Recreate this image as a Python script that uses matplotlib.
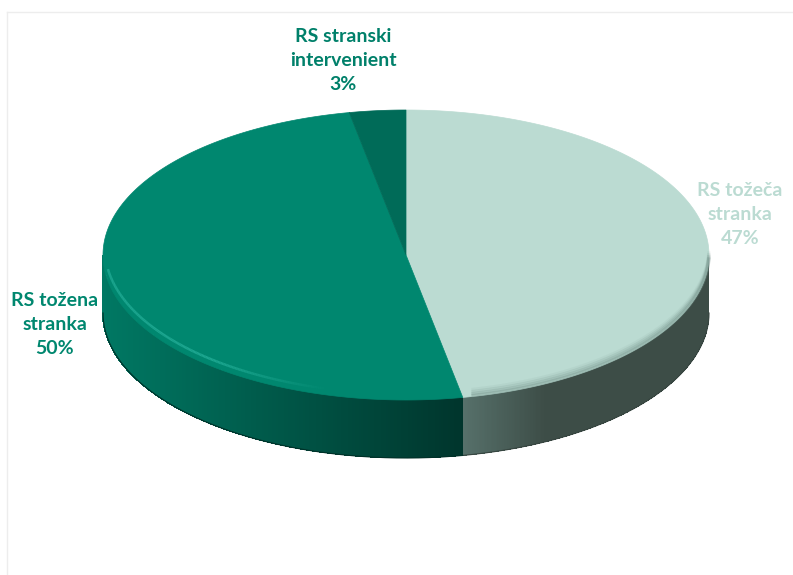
import numpy as np
import matplotlib.pyplot as plt
from matplotlib.patches import Polygon
from matplotlib.colors import to_rgb

labels = ['RS tožeča\nstranka', 'RS tožena\nstranka', 'RS stranski\nintervenient']
values = [47, 50, 3]
top_colors = ['#BBDBD2', '#00876F', '#006B58']
label_colors = ['#BBDBD2', '#00876F', '#00806A']
# side shading: (color at left end, color at right end)
side_colors = [('#56706A', '#3D4D47'), ('#007863', '#00352C'), ('#005546', '#004438')]

plt.rcParams['font.family'] = ['Lato', 'DejaVu Sans']

fig = plt.figure(figsize=(7.93, 5.75), dpi=100)
ax = fig.add_axes([0, 0, 1, 1])
ax.set_xlim(0, 793)
ax.set_ylim(575, 0)
ax.axis('off')

# faint chart border
ax.plot([7, 793], [12, 12], color='#EDEDED', lw=1)
ax.plot([7, 7], [12, 575], color='#EDEDED', lw=1)

cx, cy, a, b, depth = 406, 255, 303, 145, 58


def pt(phi):
    r = np.radians(phi)
    return cx + a * np.sin(r), cy - b * np.cos(r)


total = sum(values)
bounds = np.concatenate([[0], np.cumsum(values) / total * 360])

# side walls (front half only), shaded in thin strips
for i in range(len(values)):
    lo, hi = max(bounds[i], 90), min(bounds[i + 1], 270)
    if lo >= hi:
        continue
    phis = np.linspace(lo, hi, 240)
    xs, ys = pt(phis)
    xmin, xmax = xs.min(), xs.max()
    c0, c1 = np.array(to_rgb(side_colors[i][0])), np.array(to_rgb(side_colors[i][1]))
    for k in range(len(phis) - 1):
        xm = (xs[k] + xs[k + 1]) / 2
        t = (xm - xmin) / (xmax - xmin + 1e-9)
        if i == 0:
            t = min(1, t * 3)
        col = c0 + (c1 - c0) * t
        x0, x1 = xs[k], xs[k + 1]
        d = 0.6 if x1 > x0 else -0.6
        quad = [(x0, ys[k]), (x1 + d, ys[k + 1]),
                (x1 + d, ys[k + 1] + depth), (x0, ys[k] + depth)]
        ax.add_patch(Polygon(quad, closed=True, facecolor=col, edgecolor='none',
                             antialiased=False))
    # smooth outline of the bottom edge
    ax.plot(xs, ys + depth, color=c1 * 0.9, lw=0.8)

# top faces
for i in range(len(values)):
    phis = np.linspace(bounds[i], bounds[i + 1], 300)
    xs, ys = pt(phis)
    poly = [(cx, cy)] + list(zip(xs, ys))
    ax.add_patch(Polygon(poly, closed=True, facecolor=top_colors[i],
                         edgecolor=top_colors[i], lw=0.5))

# rim bevel: highlight on the dark slice, soft shadow on the light one
phis = np.linspace(195, 262, 200)
xs, ys = pt(phis)
fade = np.clip((phis - 195) / 25, 0, 1)
for k in range(len(phis) - 1):
    ax.plot(xs[k:k + 2] + 2, ys[k:k + 2] - 6, color='#22AC96', lw=1.8,
            alpha=0.85 * fade[k], solid_capstyle='butt')
phis = np.linspace(92, bounds[1] - 2, 200)
xs, ys = pt(phis)
for off, al in [(1, 0.35), (3, 0.25), (5, 0.15), (7, 0.08)]:
    ax.plot(xs, ys - off, color='#6E8C84', lw=2.5, alpha=al)

# labels
pos = [(740, 215), (55, 324), (343, 60)]
for i in range(len(values)):
    ax.text(pos[i][0], pos[i][1], f'{labels[i]}\n{values[i]}%', ha='center', va='center',
            color=label_colors[i], fontsize=14, fontweight='bold', linespacing=1.5)

fig.savefig('out.png', dpi=100)
